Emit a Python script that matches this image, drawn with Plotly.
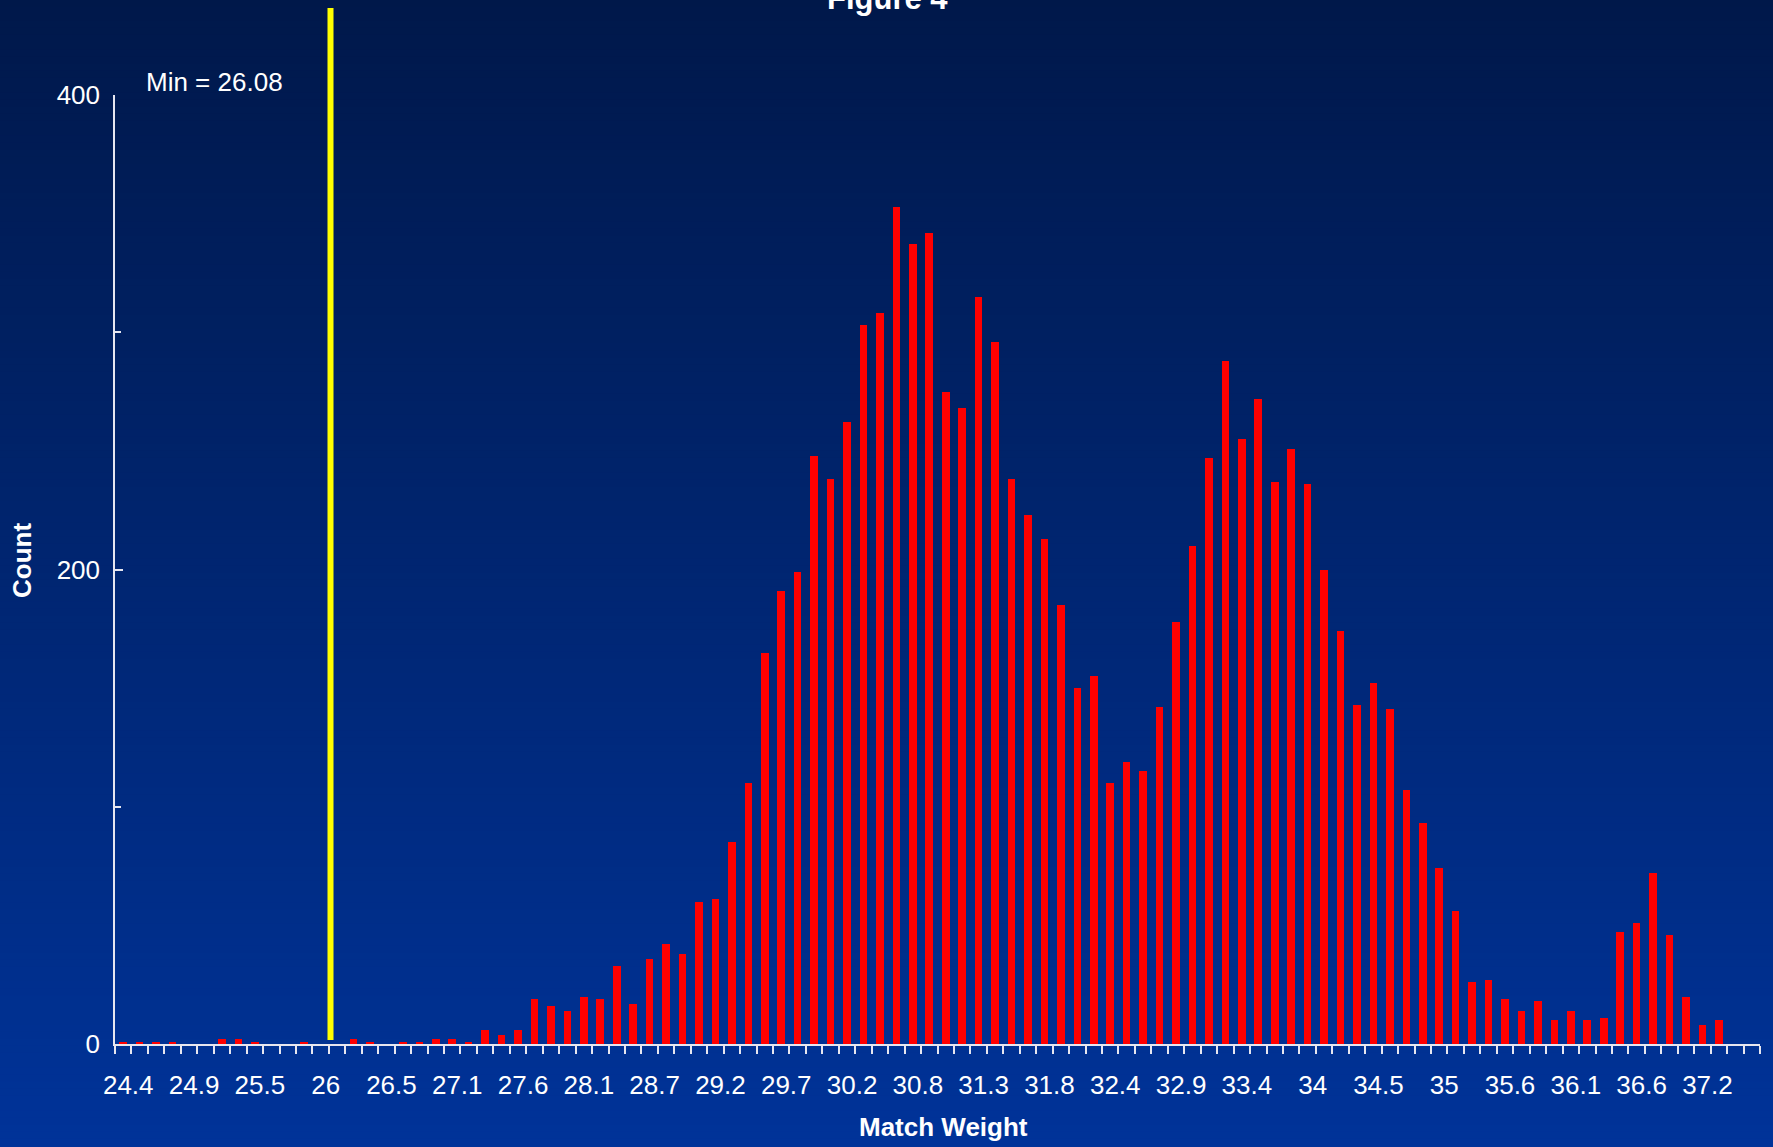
import plotly.graph_objects as go

# Histogram of match weights: 100 bins of width 2/15 starting at 24.4
BIN_START = 24.4
BIN_STEP = 2 / 15

counts = [
    1, 1, 1, 1, 0, 0, 2, 2, 1, 0,
    0, 1, 0, 0, 2, 1, 0, 1, 1, 2,
    2, 1, 6, 4, 6, 19, 16, 14, 20, 19,
    33, 17, 36, 42, 38, 60, 61, 85, 110, 165,
    191, 199, 248, 238, 262, 303, 308, 353, 337, 342,
    275, 268, 315, 296, 238, 223, 213, 185, 150, 155,
    110, 119, 115, 142, 178, 210, 247, 288, 255, 272,
    237, 251, 236, 200, 174, 143, 152, 141, 107, 93,
    74, 56, 26, 27, 19, 14, 18, 10, 14, 10,
    11, 47, 51, 72, 46, 20, 8, 10, 0, 0,
]

# Every fourth bin carries a label
tick_labels = [
    "24.4", "24.9", "25.5", "26", "26.5", "27.1", "27.6", "28.1", "28.7",
    "29.2", "29.7", "30.2", "30.8", "31.3", "31.8", "32.4", "32.9", "33.4",
    "34", "34.5", "35", "35.6", "36.1", "36.6", "37.2",
]
LABEL_EVERY = 4

min_weight = 26.08
min_label = "Min = 26.08"

# Page geometry
W, H = 1773, 1147
ML, MR, MT, MB = 115, 13, 95, 103
PLOT_H = H - MT - MB
PLOT_W = W - ML - MR


def paper_y(px):
    """Page pixel row -> paper y coordinate."""
    return (H - MB - px) / PLOT_H


def paper_x(px):
    """Page pixel column -> paper x coordinate."""
    return (px - ML) / PLOT_W


bin_centres = [BIN_START + k * BIN_STEP for k in range(len(counts))]
bin_edges = [BIN_START + (k - 0.5) * BIN_STEP for k in range(len(counts) + 1)]
tick_positions = [bin_centres[LABEL_EVERY * i] for i in range(len(tick_labels))]

FONT = "Arial, 'Liberation Sans', sans-serif"
WHITE = "#FFFFFF"
AXIS_GREY = "#E6E6F0"

fig = go.Figure()
fig.add_trace(
    go.Bar(
        x=bin_centres,
        y=counts,
        width=0.46 * BIN_STEP,
        marker=dict(color="#FF0000", line=dict(width=0)),
        showlegend=False,
    )
)

# Vertical navy-to-blue background gradient built from thin strips
TOP_RGB = (0, 24, 74)
BOTTOM_RGB = (0, 51, 153)
N_STRIPS = 160
shapes = []
for i in range(N_STRIPS):
    t = (i + 0.5) / N_STRIPS
    r, g, b = (round(a + (c - a) * t) for a, c in zip(TOP_RGB, BOTTOM_RGB))
    y_top = i * H / N_STRIPS - 1
    y_bot = (i + 1) * H / N_STRIPS + 1
    shapes.append(
        dict(
            type="rect", xref="paper", yref="paper", layer="below",
            x0=-0.1, x1=1.1, y0=paper_y(y_bot), y1=paper_y(y_top),
            fillcolor=f"rgb({r},{g},{b})", line=dict(width=0),
        )
    )

# Marker for the minimum match weight
shapes.append(
    dict(
        type="line", xref="x", yref="paper", layer="above",
        x0=min_weight, x1=min_weight, y0=paper_y(1040), y1=paper_y(8),
        line=dict(color="#FFFF00", width=6),
    )
)

fig.update_layout(
    width=W,
    height=H,
    margin=dict(l=ML, r=MR, t=MT, b=MB, autoexpand=False),
    paper_bgcolor="rgb(0,38,112)",
    plot_bgcolor="rgba(0,0,0,0)",
    font=dict(family=FONT, size=26, color=WHITE),
    bargap=0,
    shapes=shapes,
    showlegend=False,
    xaxis=dict(
        range=[bin_edges[0], bin_edges[-1]],
        tickmode="array",
        tickvals=tick_positions,
        ticktext=tick_labels,
        ticks="",
        ticklabelstandoff=17,
        ticklabelshift=5,
        tickfont=dict(size=26, color=WHITE),
        minor=dict(
            tickmode="array", tickvals=bin_edges, ticks="outside",
            ticklen=8, tickwidth=1.5, tickcolor=AXIS_GREY, showgrid=False,
        ),
        showline=True, linecolor=AXIS_GREY, linewidth=1.5,
        showgrid=False, zeroline=False,
    ),
    yaxis=dict(
        range=[0, 400],
        tickmode="linear", tick0=0, dtick=200,
        ticks="inside", ticklen=8, tickwidth=1.5, tickcolor=AXIS_GREY,
        ticklabelstandoff=8,
        tickfont=dict(size=26, color=WHITE),
        minor=dict(
            tickmode="linear", tick0=0, dtick=100, ticks="inside",
            ticklen=6, tickwidth=1.5, tickcolor=AXIS_GREY, showgrid=False,
        ),
        showline=True, linecolor=AXIS_GREY, linewidth=1.5,
        showgrid=False, zeroline=False,
    ),
    annotations=[
        dict(
            text="<b>Figure 4</b>", xref="paper", yref="paper",
            x=paper_x(887), y=paper_y(18), xanchor="center", yanchor="bottom",
            showarrow=False, font=dict(size=31, color=WHITE),
        ),
        dict(
            text=min_label, xref="paper", yref="paper",
            x=paper_x(144), y=paper_y(82), xanchor="left", yanchor="middle",
            showarrow=False, font=dict(size=26, color=WHITE),
        ),
        dict(
            text="<b>Match Weight</b>", xref="paper", yref="paper",
            x=paper_x(943), y=paper_y(1127), xanchor="center", yanchor="middle",
            showarrow=False, font=dict(size=26, color=WHITE),
        ),
        dict(
            text="<b>Count</b>", xref="paper", yref="paper", textangle=-90,
            x=paper_x(22), y=paper_y(561), xanchor="center", yanchor="middle",
            showarrow=False, font=dict(size=26, color=WHITE),
        ),
    ],
)

fig.write_html("out.html")
